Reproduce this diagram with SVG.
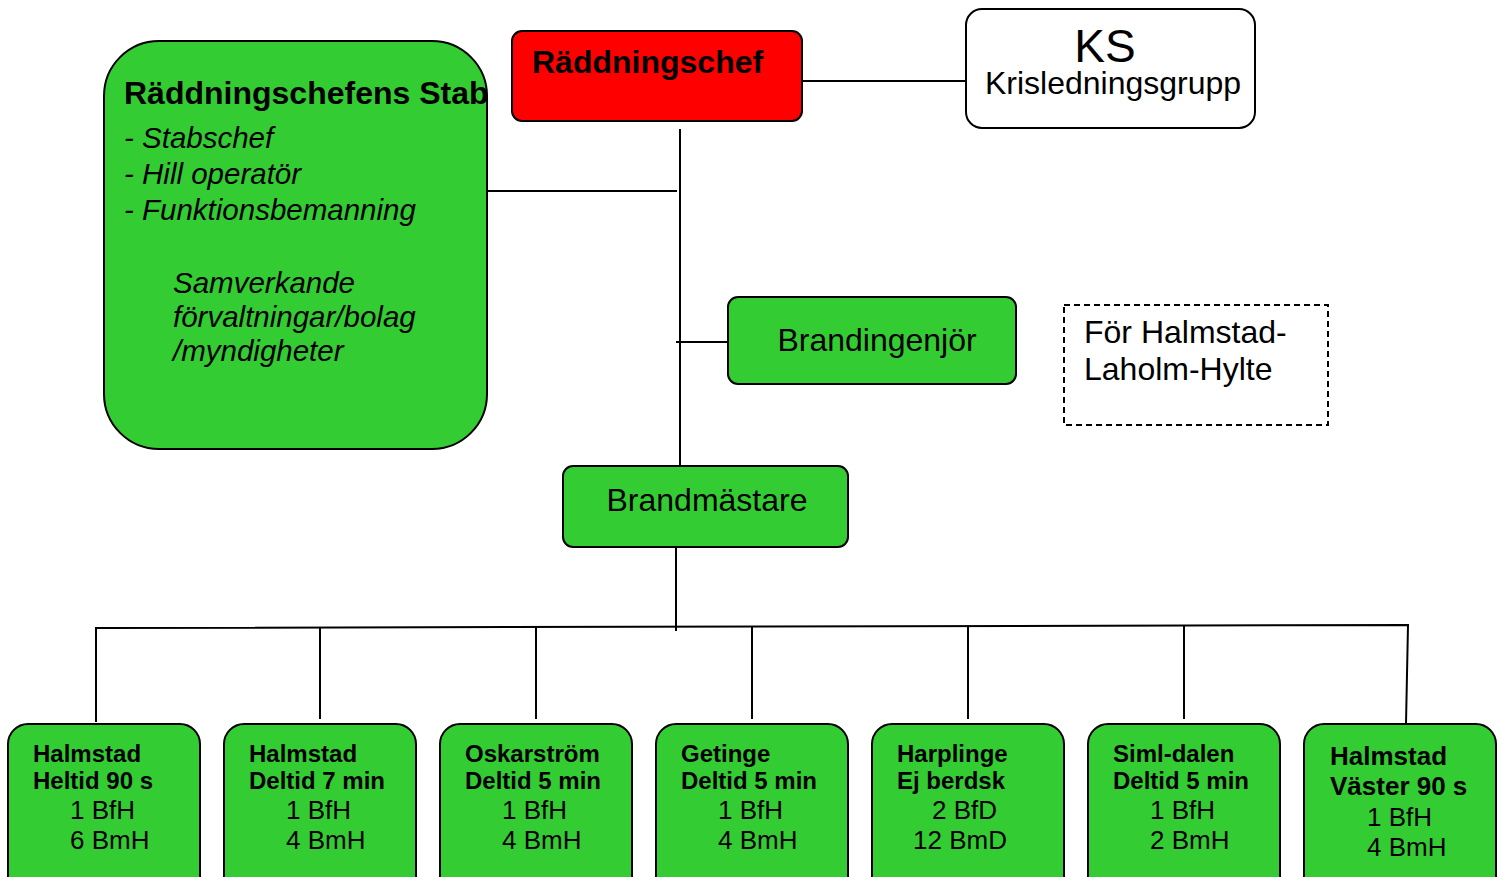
<svg xmlns="http://www.w3.org/2000/svg" width="1504" height="877" viewBox="0 0 1504 877">
<style>
.g{fill:#33CC33;stroke:#000;stroke-width:2}
.r{fill:#FF0000;stroke:#000;stroke-width:2}
.w{fill:#fff;stroke:#000;stroke-width:2}
.d{fill:none;stroke:#000;stroke-width:2;stroke-dasharray:6,4}
.c{fill:none;stroke:#000;stroke-width:2}
text{font-family:"Liberation Sans",Arial,sans-serif;fill:#000}
.n{font-size:32px}
.b{font-size:32px;font-weight:bold}
.i{font-size:29.5px;font-style:italic}
.sb{font-size:24px;font-weight:bold}
.sn{font-size:26px}
.lb{font-size:26px;font-weight:bold}
</style>
<rect width="1504" height="877" fill="#fff"/>
<g id="connectors">
<line class="c" x1="802" y1="81" x2="966" y2="81"/>
<line class="c" x1="680" y1="129" x2="680" y2="466"/>
<line class="c" x1="487" y1="191" x2="677" y2="191"/>
<line class="c" x1="676" y1="342" x2="728" y2="342"/>
<line class="c" x1="676" y1="547" x2="676" y2="631"/>
<polyline class="c" points="96,722 96,628 1408,625 1406,724"/>
<line class="c" x1="320" y1="627" x2="320" y2="719"/>
<line class="c" x1="536" y1="627" x2="536" y2="719"/>
<line class="c" x1="752" y1="627" x2="752" y2="719"/>
<line class="c" x1="968" y1="626" x2="968" y2="719"/>
<line class="c" x1="1184" y1="626" x2="1184" y2="719"/>
</g>
<g id="stab">
<rect class="g" x="104" y="41" width="383" height="408" rx="55"/>
<text class="b" x="124" y="104">Räddningschefens Stab</text>
<text class="i" x="124" y="148">- Stabschef</text>
<text class="i" x="124" y="184">- Hill operatör</text>
<text class="i" x="124" y="220">- Funktionsbemanning</text>
<text class="i" x="173" y="293">Samverkande</text>
<text class="i" x="173" y="327">förvaltningar/bolag</text>
<text class="i" x="173" y="361">/myndigheter</text>
</g>
<g id="raddningschef">
<rect class="r" x="512" y="31" width="290" height="90" rx="10"/>
<text class="b" x="532" y="73">Räddningschef</text>
</g>
<g id="ks">
<rect class="w" x="966" y="9" width="289" height="119" rx="16"/>
<text x="1105" y="62" text-anchor="middle" style="font-size:46px">KS</text>
<text class="n" x="1113" y="94" text-anchor="middle">Krisledningsgrupp</text>
</g>
<g id="brandingenjor">
<rect class="g" x="728" y="297" width="288" height="87" rx="10"/>
<text class="n" x="877" y="351" text-anchor="middle">Brandingenjör</text>
</g>
<g id="note">
<rect class="d" x="1064" y="305" width="264" height="120"/>
<text class="n" x="1084" y="343">För Halmstad-</text>
<text class="n" x="1084" y="380">Laholm-Hylte</text>
</g>
<g id="brandmastare">
<rect class="g" x="563" y="466" width="285" height="81" rx="10"/>
<text class="n" x="707" y="511" text-anchor="middle">Brandmästare</text>
</g>
<g id="s1">
<rect class="g" x="8" y="724" width="192" height="175" rx="20"/>
<text class="sb" x="33" y="762">Halmstad</text>
<text class="sb" x="33" y="789">Heltid 90 s</text>
<text class="sn" x="70" y="819">1 BfH</text>
<text class="sn" x="70" y="849">6 BmH</text>
</g>
<g id="s2">
<rect class="g" x="224" y="724" width="192" height="175" rx="20"/>
<text class="sb" x="249" y="762">Halmstad</text>
<text class="sb" x="249" y="789">Deltid 7 min</text>
<text class="sn" x="286" y="819">1 BfH</text>
<text class="sn" x="286" y="849">4 BmH</text>
</g>
<g id="s3">
<rect class="g" x="440" y="724" width="192" height="175" rx="20"/>
<text class="sb" x="465" y="762">Oskarström</text>
<text class="sb" x="465" y="789">Deltid 5 min</text>
<text class="sn" x="502" y="819">1 BfH</text>
<text class="sn" x="502" y="849">4 BmH</text>
</g>
<g id="s4">
<rect class="g" x="656" y="724" width="192" height="175" rx="20"/>
<text class="sb" x="681" y="762">Getinge</text>
<text class="sb" x="681" y="789">Deltid 5 min</text>
<text class="sn" x="718" y="819">1 BfH</text>
<text class="sn" x="718" y="849">4 BmH</text>
</g>
<g id="s5">
<rect class="g" x="872" y="724" width="192" height="175" rx="20"/>
<text class="sb" x="897" y="762">Harplinge</text>
<text class="sb" x="897" y="789">Ej berdsk</text>
<text class="sn" x="932" y="819">2 BfD</text>
<text class="sn" x="913" y="849">12 BmD</text>
</g>
<g id="s6">
<rect class="g" x="1088" y="724" width="192" height="175" rx="20"/>
<text class="sb" x="1113" y="762">Siml-dalen</text>
<text class="sb" x="1113" y="789">Deltid 5 min</text>
<text class="sn" x="1150" y="819">1 BfH</text>
<text class="sn" x="1150" y="849">2 BmH</text>
</g>
<g id="s7">
<rect class="g" x="1304" y="724" width="192" height="175" rx="20"/>
<text class="lb" x="1330" y="765">Halmstad</text>
<text class="lb" x="1330" y="795">Väster 90 s</text>
<text class="sn" x="1367" y="826">1 BfH</text>
<text class="sn" x="1367" y="856">4 BmH</text>
</g>
</svg>
